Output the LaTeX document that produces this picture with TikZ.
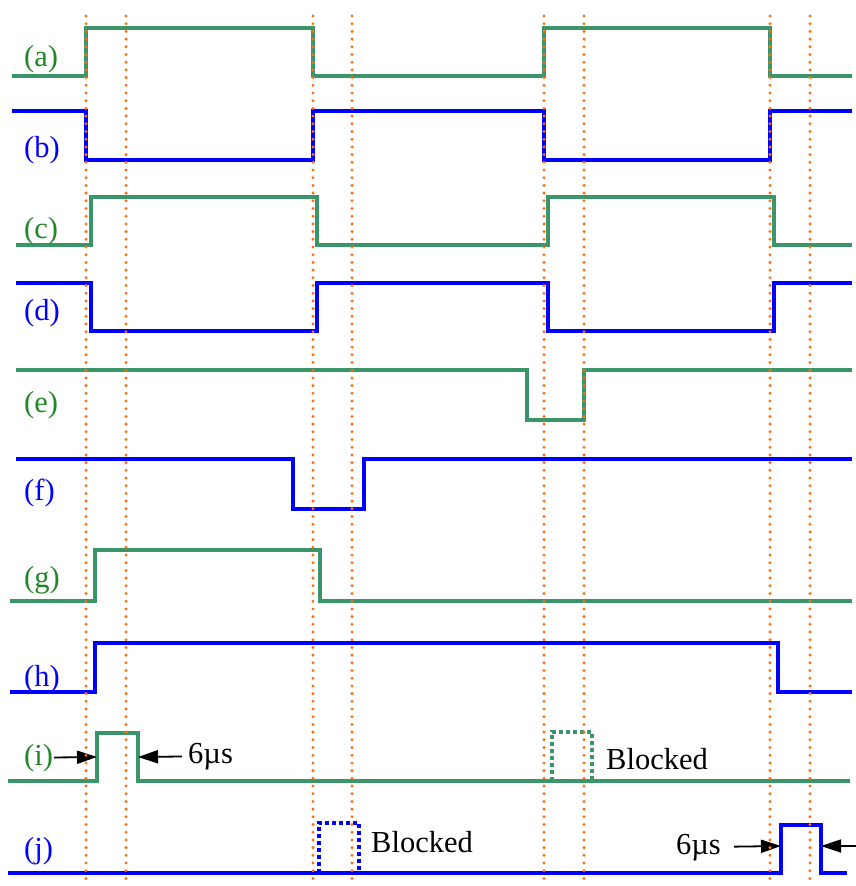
\documentclass[tikz,border=0pt]{standalone}
\usepackage{fontspec}
\setmainfont{Liberation Serif}
\usepackage{tikz}
\usetikzlibrary{arrows.meta}
\definecolor{wavegreen}{RGB}{58,150,105}
\definecolor{labelgreen}{RGB}{34,135,40}
\definecolor{waveblue}{RGB}{0,0,255}
\definecolor{guideorange}{RGB}{255,110,20}

\begin{document}
\begin{tikzpicture}[x=1pt, y=-1pt,
    every node/.style={font=\fontsize{30.5}{30.5}\selectfont, inner sep=1pt},
    sigg/.style={wavegreen, line width=3.8pt},
    sigb/.style={waveblue, line width=3.8pt},
    guide/.style={guideorange, line width=3.3pt, line cap=round, dash pattern=on 0pt off 7.7pt},
    blocked/.style={line width=3.2pt, dash pattern=on 4pt off 3pt},
    pointer/.style={-{Triangle[length=20pt,width=13pt]}, line width=1.8pt}]
  \useasboundingbox (0,0) rectangle (856,886);
  % signal labels
  \foreach \t/\y/\c in {a/66/labelgreen, b/157/waveblue, c/238/labelgreen, d/320/waveblue,
      e/412/labelgreen, f/500/waveblue, g/587/labelgreen, h/686/waveblue,
      i/765/labelgreen, j/858/waveblue} {
    \node[anchor=base west, text=\c] (l\t) at (23,\y) {(\t)};
  }
  % waveforms
  \draw[sigg] (12,76) -- (86,76) -- (86,28) -- (313,28) -- (313,76) -- (544,76) -- (544,28) -- (770,28) -- (770,76) -- (852,76);
  \draw[sigb] (12,111) -- (86,111) -- (86,160) -- (313,160) -- (313,111) -- (544,111) -- (544,160) -- (770,160) -- (770,111) -- (852,111);
  \draw[sigg] (16,245) -- (91,245) -- (91,197) -- (317,197) -- (317,245) -- (548,245) -- (548,197) -- (774,197) -- (774,245) -- (852,245);
  \draw[sigb] (16,283) -- (91,283) -- (91,331) -- (317,331) -- (317,283) -- (548,283) -- (548,331) -- (774,331) -- (774,283) -- (852,283);
  \draw[sigg] (16,370) -- (527,370) -- (527,420) -- (584,420) -- (584,370) -- (852,370);
  \draw[sigb] (16,459) -- (293,459) -- (293,509) -- (364,509) -- (364,459) -- (852,459);
  \draw[sigg] (10,601) -- (95,601) -- (95,550) -- (320,550) -- (320,601) -- (852,601);
  \draw[sigb] (10,692) -- (95,692) -- (95,643) -- (778,643) -- (778,692) -- (852,692);
  \draw[sigg] (8,781) -- (97,781) -- (97,733) -- (138,733) -- (138,781) -- (850,781);
  \draw[sigb] (8,873) -- (781,873) -- (781,825) -- (821,825) -- (821,873) -- (847,873);
  % blocked pulses
  \draw[blocked, wavegreen] (552,781) -- (552,732) -- (592,732) -- (592,781);
  \draw[blocked, waveblue] (319,873) -- (319,823) -- (359,823) -- (359,873);
  \node[anchor=base west] (blkI) at (605,769) {Blocked};
  \node[anchor=base west] (blkJ) at (370,852) {Blocked};
  % 6us pulse widths
  \node[anchor=base west] (usI) at (187,763) {6µs};
  \node[anchor=base east] (usJ) at (722,854) {6µs};
  \coordinate (iRise) at (97,757);
  \coordinate (iFall) at (138,757);
  \coordinate (jRise) at (781,846);
  \coordinate (jFall) at (821,846);
  \coordinate (jEdge) at (856,846);
  \draw[pointer] (li) -- (iRise);
  \draw[pointer, shorten <=5pt] (usI) -- (iFall);
  \draw[pointer, shorten <=12pt] (usJ) -- (jRise);
  \draw[pointer] (jEdge) -- (jFall);
  % timing guides
  \foreach \x in {86,126,313,352,544,584,770,810} {
    \draw[guide] (\x,16) -- (\x,886);
  }
\end{tikzpicture}
\end{document}
